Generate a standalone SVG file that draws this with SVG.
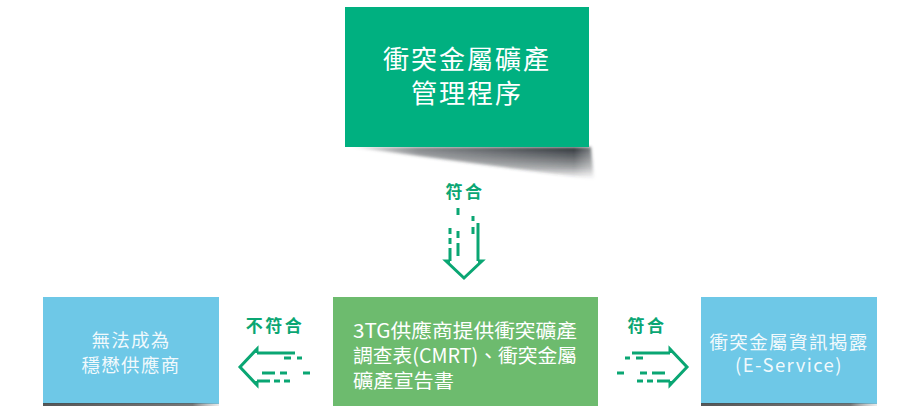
<svg xmlns="http://www.w3.org/2000/svg" width="905" height="406" viewBox="0 0 905 406">
<defs>
<style>
.box-txt{font-family:"Noto Sans CJK TC","Noto Sans CJK SC",sans-serif;fill:#ffffff;}
.lbl{font-family:"Noto Sans CJK TC","Noto Sans CJK SC",sans-serif;font-weight:700;font-size:17px;fill:#0aa673;letter-spacing:2.5px;text-anchor:middle;}
.ar{stroke:#0aa673;stroke-width:3;fill:none;}
</style>
<linearGradient id="shadowV" x1="0" y1="0" x2="0" y2="1">
<stop offset="0" stop-color="#2e3338" stop-opacity="1"/>
<stop offset="0.6" stop-color="#2e3338" stop-opacity="0.5"/>
<stop offset="1" stop-color="#2e3338" stop-opacity="0"/>
</linearGradient>
<linearGradient id="shadowH" x1="0" y1="0" x2="1" y2="0">
<stop offset="0" stop-color="#fff" stop-opacity="0"/>
<stop offset="0.3" stop-color="#fff" stop-opacity="0.6"/>
<stop offset="0.9" stop-color="#fff" stop-opacity="1"/>
<stop offset="1" stop-color="#fff" stop-opacity="0.5"/>
</linearGradient>
<mask id="shadowMask">
<rect x="340" y="140" width="260" height="45" fill="url(#shadowH)"/>
</mask>
<linearGradient id="btmShadow" x1="0" y1="0" x2="1" y2="0">
<stop offset="0" stop-color="#444" stop-opacity="0.9"/>
<stop offset="0.85" stop-color="#555" stop-opacity="0.8"/>
<stop offset="1" stop-color="#999" stop-opacity="0.2"/>
</linearGradient>
<filter id="soft" x="-0.1" y="-0.5" width="1.2" height="2">
<feGaussianBlur stdDeviation="1.5"/>
</filter>
<g id="arrow">
<path class="ar" d="M-17,-14 V-18 L0,0 L-17,18 V14"/>
<path class="ar" d="M-55,-14 H-17"/>
<path class="ar" d="M-62,-9 H-57 M-51,-9 H-44"/>
<path class="ar" d="M-70,6 H-63 M-47,6 H-40 M-35,6 H-22"/>
<path class="ar" d="M-50,14 H-44 M-40,14 H-34 M-30,14 H-17"/>
</g>
</defs>

<g id="top-node">
<path d="M352,147 L591,147 L594,179 Q470,163 352,147 Z" fill="url(#shadowV)" mask="url(#shadowMask)" filter="url(#soft)"/>
<rect x="345" y="7" width="244" height="140" fill="#00b080"/>
<text class="box-txt" x="467" y="69" font-size="26" letter-spacing="2" text-anchor="middle">衝突金屬礦產</text>
<text class="box-txt" x="467" y="103" font-size="26" letter-spacing="2" text-anchor="middle">管理程序</text>
</g>

<g id="middle-node">
<rect x="333" y="297" width="265" height="109" fill="#6dbb6e"/>
<text class="box-txt" x="353" y="338" font-size="19.5" textLength="224" lengthAdjust="spacingAndGlyphs">3TG供應商提供衝突礦產</text>
<text class="box-txt" x="353" y="363" font-size="19.5" textLength="224" lengthAdjust="spacingAndGlyphs">調查表(CMRT)、衝突金屬</text>
<text class="box-txt" x="353" y="388" font-size="19.5" textLength="101" lengthAdjust="spacingAndGlyphs">礦產宣告書</text>
</g>

<g id="left-node">
<rect x="43" y="297" width="176" height="107" fill="#6ec8e7"/>
<rect x="43" y="403" width="176" height="3" fill="url(#btmShadow)"/>
<text class="box-txt" x="131" y="347" font-size="18.5" letter-spacing="1.3" text-anchor="middle" fill-opacity="0.92">無法成為</text>
<text class="box-txt" x="131" y="372" font-size="18.5" letter-spacing="1.3" text-anchor="middle" fill-opacity="0.92">穩懋供應商</text>
</g>

<g id="right-node">
<rect x="701" y="297" width="176" height="107" fill="#6ec8e7"/>
<rect x="701" y="403" width="176" height="3" fill="url(#btmShadow)"/>
<text class="box-txt" x="789" y="349" font-size="18.5" letter-spacing="1.4" text-anchor="middle" fill-opacity="0.92">衝突金屬資訊揭露</text>
<text class="box-txt" x="789" y="372" font-size="18.5" letter-spacing="1.4" text-anchor="middle" fill-opacity="0.92">(E-Service)</text>
</g>

<g id="connectors">
<use href="#arrow" transform="translate(464,278) rotate(90)"/>
<use href="#arrow" transform="translate(687,367)"/>
<use href="#arrow" transform="translate(240,367) scale(-1,1)"/>
<text class="lbl" x="465" y="198">符合</text>
<text class="lbl" x="275" y="332">不符合</text>
<text class="lbl" x="647" y="332">符合</text>
</g>
</svg>
